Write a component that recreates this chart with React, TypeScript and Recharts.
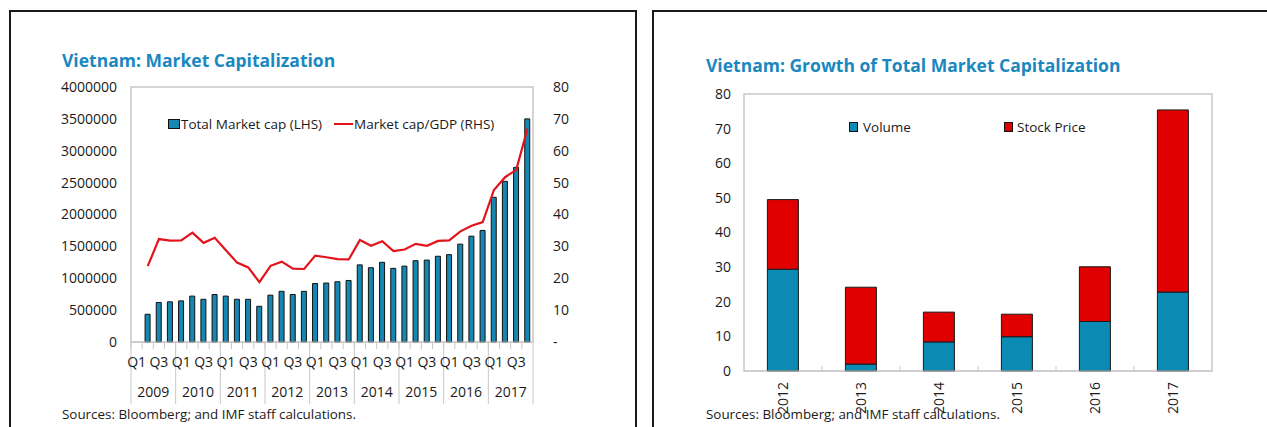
import React from 'react';
import { ComposedChart, BarChart, Bar, Line, XAxis, YAxis, ReferenceArea } from 'recharts';

// ---------- Left chart data ----------
const years = ['2009', '2010', '2011', '2012', '2013', '2014', '2015', '2016', '2017'];
const quarters = ['Q1', 'Q2', 'Q3', 'Q4'];
// Total market cap (LHS), 2009Q1 ... 2017Q4 (2009Q1 missing)
const marketCap: (number | null)[] = [
  null, 435000, 620000, 630000,
  645000, 720000, 670000, 745000,
  720000, 670000, 670000, 560000,
  735000, 795000, 745000, 795000,
  917000, 925000, 945000, 965000,
  1210000, 1165000, 1250000, 1155000,
  1190000, 1275000, 1285000, 1345000,
  1370000, 1535000, 1660000, 1750000,
  2270000, 2520000, 2740000, 3500000,
];
// Market cap / GDP (RHS)
const marketCapGdp: (number | null)[] = [
  null, 23.8, 32.3, 31.8,
  31.9, 34.3, 31.1, 32.7,
  28.8, 24.9, 23.4, 18.8,
  23.9, 25.2, 23.0, 22.9,
  27.1, 26.6, 26.0, 25.9,
  32.0, 30.2, 31.6, 28.5,
  29.0, 30.8, 30.2, 31.7,
  31.9, 34.7, 36.5, 37.6,
  47.7, 51.7, 54.0, 66.9,
];
const leftTicks = [0, 500000, 1000000, 1500000, 2000000, 2500000, 3000000, 3500000, 4000000];
const rightTicks = [0, 10, 20, 30, 40, 50, 60, 70, 80];

// ---------- Right chart data ----------
const growthYears = ['2012', '2013', '2014', '2015', '2016', '2017'];
const volume = [29.4, 2.0, 8.4, 9.9, 14.3, 22.8];
const stockPrice = [20.1, 22.2, 8.6, 6.5, 15.8, 52.6];
const growthTicks = [0, 10, 20, 30, 40, 50, 60, 70, 80];

const capData = years.flatMap((y, yi) =>
  quarters.map((q, qi) => ({
    key: `${y} ${q}`,
    year: y,
    q,
    qi,
    cap: marketCap[yi * 4 + qi],
    gdp: marketCapGdp[yi * 4 + qi],
  }))
);
const growthData = growthYears.map((y, i) => ({ year: y, volume: volume[i], price: stockPrice[i] }));

const FONT = "'Open Sans', sans-serif";
const TITLE = '#1a88bf';
const BAR_BLUE = '#1686b2';
const VOL_BLUE = '#0b8ab4';
const RED = '#e00000';
const LINE_RED = '#e3131b';
const GRID = '#c8c8c8';
const TXT = '#1a1a1a';

const QuarterTick = (props: any) => {
  const { x, y, payload, index } = props;
  const half = typeof payload?.offset === 'number' && payload.offset > 0 ? payload.offset : 402 / 36 / 2;
  const d = capData[index];
  if (!d) return null;
  const left = x - half;
  const right = x + half;
  return (
    <g>
      <line x1={left} x2={left} y1={y} y2={y + 7} stroke={GRID} />
      {d.qi === 0 && <line x1={left} x2={left} y1={y} y2={y + 62} stroke={GRID} />}
      {index === capData.length - 1 && <line x1={right} x2={right} y1={y} y2={y + 62} stroke={GRID} />}
      {d.qi % 2 === 0 && (
        <text x={x} y={y + 25} textAnchor="middle" fontSize={14} fontFamily={FONT} fill={TXT}>
          {d.q}
        </text>
      )}
      {d.qi === 1 && (
        <text x={right} y={y + 55} textAnchor="middle" fontSize={14} fontFamily={FONT} fill={TXT}>
          {d.year}
        </text>
      )}
    </g>
  );
};

const YearTick = (props: any) => {
  const { x, y, payload, index } = props;
  const half = typeof payload?.offset === 'number' && payload.offset > 0 ? payload.offset : 39;
  return (
    <g>
      {index < growthData.length - 1 && (
        <line x1={x + half} x2={x + half} y1={y - 5} y2={y} stroke={GRID} />
      )}
      <text
        x={x}
        y={y + 11}
        transform={`rotate(-90, ${x}, ${y + 11})`}
        textAnchor="end"
        dy="0.35em"
        fontSize={14}
        fontFamily={FONT}
        fill={TXT}
      >
        {payload.value}
      </text>
    </g>
  );
};

const abs = (l: number, t: number): React.CSSProperties => ({ position: 'absolute', left: l, top: t });

export default function App() {
  return (
    <div style={{ position: 'absolute', left: 0, top: 0, width: 1267, height: 427, overflow: 'hidden', background: '#fff', fontFamily: FONT }}>
      {/* panel frames */}
      <div style={{ ...abs(9, 10), width: 628, height: 440, border: '2px solid #1a1a1a', boxSizing: 'border-box' }} />
      <div style={{ ...abs(652, 10), width: 700, height: 440, border: '2px solid #1a1a1a', boxSizing: 'border-box' }} />

      {/* titles */}
      <div style={{ ...abs(62, 48), fontSize: 17.5, fontWeight: 700, color: TITLE, lineHeight: '24px', whiteSpace: 'nowrap' }}>
        Vietnam: Market Capitalization
      </div>
      <div style={{ ...abs(706, 53), fontSize: 17.5, fontWeight: 700, color: TITLE, lineHeight: '24px', whiteSpace: 'nowrap' }}>
        Vietnam: Growth of Total Market Capitalization
      </div>

      {/* left chart */}
      <div style={abs(0, 0)}>
        <ComposedChart width={640} height={427} data={capData} margin={{ top: 87, right: 47, left: 0, bottom: 25 }} barCategoryGap="26%">
          <XAxis
            dataKey="key"
            xAxisId="x"
            interval={0}
            height={60}
            tickSize={0}
            tickMargin={0}
            tick={<QuarterTick />}
            axisLine={{ stroke: GRID }}
            tickLine={false}
          />
          <YAxis
            yAxisId="left"
            width={131}
            domain={[0, 4000000]}
            ticks={leftTicks}
            tickSize={0}
            tickMargin={14}
            axisLine={false}
            tickLine={false}
            tick={{ fontSize: 14, fontFamily: FONT, fill: TXT }}
          />
          <YAxis
            yAxisId="right"
            orientation="right"
            width={60}
            domain={[0, 80]}
            ticks={rightTicks}
            tickSize={0}
            tickMargin={20}
            axisLine={false}
            tickLine={false}
            tickFormatter={(v: number) => (v === 0 ? '-' : String(v))}
            tick={{ fontSize: 14, fontFamily: FONT, fill: TXT, textAnchor: 'start' }}
          />
          <ReferenceArea xAxisId="x" yAxisId="left" y1={0} y2={4000000} fill="none" stroke={GRID} strokeWidth={1.5} />
          <Bar xAxisId="x" yAxisId="left" dataKey="cap" name="Total Market cap (LHS)" fill={BAR_BLUE} stroke="#111" strokeWidth={1} isAnimationActive={false} />
          <Line xAxisId="x" yAxisId="right" dataKey="gdp" name="Market cap/GDP (RHS)" stroke={LINE_RED} strokeWidth={2.2} dot={false} type="linear" isAnimationActive={false} />
        </ComposedChart>
      </div>

      {/* left legend */}
      <div style={{ ...abs(168, 115), display: 'flex', alignItems: 'center', fontSize: 13.5, color: TXT, lineHeight: '18px', whiteSpace: 'nowrap' }}>
        <span style={{ width: 12, height: 10, background: BAR_BLUE, border: '1px solid #111', boxSizing: 'border-box', marginRight: 1 }} />
        <span>Total Market cap (LHS)</span>
        <span style={{ width: 19, height: 2, background: LINE_RED, marginLeft: 12, marginRight: 1 }} />
        <span>Market cap/GDP (RHS)</span>
      </div>

      {/* right chart */}
      <div style={abs(640, 0)}>
        <BarChart width={627} height={427} data={growthData} margin={{ top: 94, right: 55, left: 0, bottom: 0 }} barCategoryGap="30%">
          <XAxis
            dataKey="year"
            interval={0}
            height={56}
            tickSize={0}
            tickMargin={0}
            tick={<YearTick />}
            axisLine={{ stroke: GRID }}
            tickLine={false}
          />
          <YAxis
            width={104}
            domain={[0, 80]}
            ticks={growthTicks}
            tickSize={0}
            tickMargin={13}
            axisLine={false}
            tickLine={false}
            tick={{ fontSize: 14, fontFamily: FONT, fill: TXT }}
          />
          <ReferenceArea y1={0} y2={80} fill="none" stroke={GRID} strokeWidth={1.5} />
          <Bar dataKey="volume" name="Volume" stackId="a" fill={VOL_BLUE} stroke="#1a1a1a" strokeWidth={1} isAnimationActive={false} />
          <Bar dataKey="price" name="Stock Price" stackId="a" fill={RED} stroke="#1a1a1a" strokeWidth={1} isAnimationActive={false} />
        </BarChart>
      </div>

      {/* right legend */}
      <div style={{ ...abs(849, 118), display: 'flex', alignItems: 'center', fontSize: 13.5, color: TXT, lineHeight: '18px', whiteSpace: 'nowrap' }}>
        <span style={{ width: 9, height: 10, background: VOL_BLUE, border: '1px solid #111', boxSizing: 'border-box', marginRight: 5 }} />
        <span>Volume</span>
      </div>
      <div style={{ ...abs(1004, 118), display: 'flex', alignItems: 'center', fontSize: 13.5, color: TXT, lineHeight: '18px', whiteSpace: 'nowrap' }}>
        <span style={{ width: 9, height: 10, background: RED, border: '1px solid #111', boxSizing: 'border-box', marginRight: 4 }} />
        <span>Stock Price</span>
      </div>

      {/* sources */}
      <div style={{ ...abs(62, 406), fontSize: 13.4, color: TXT, lineHeight: '16px', whiteSpace: 'nowrap' }}>
        Sources: Bloomberg; and IMF staff calculations.
      </div>
      <div style={{ ...abs(706, 406), fontSize: 13.4, color: TXT, lineHeight: '16px', whiteSpace: 'nowrap' }}>
        Sources: Bloomberg; and IMF staff calculations.
      </div>
    </div>
  );
}
